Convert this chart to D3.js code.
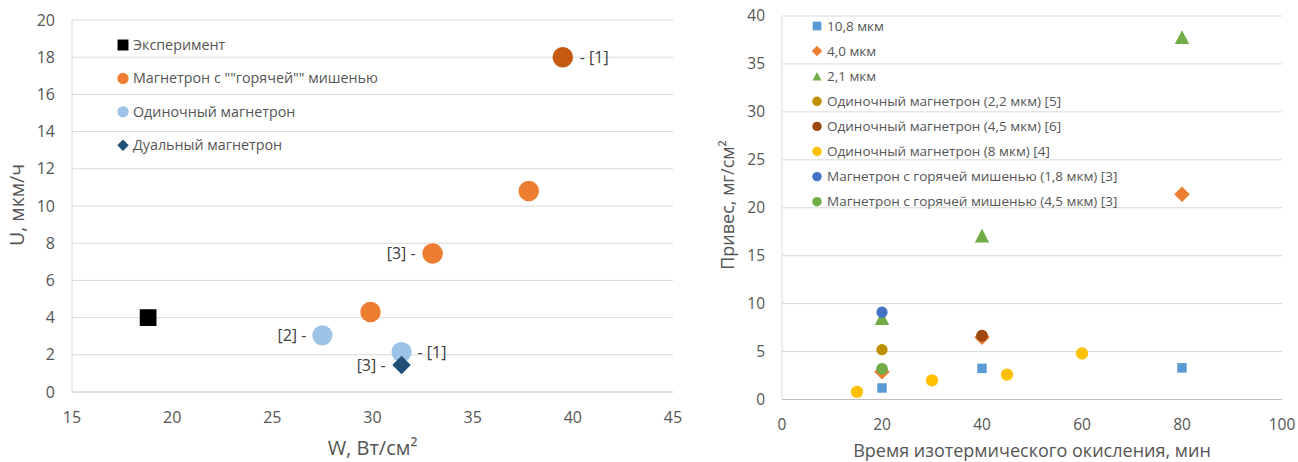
<!DOCTYPE html>
<html>
<head>
<meta charset="utf-8">
<script src="https://cdn.jsdelivr.net/npm/d3@7"></script>
<style>
  html, body { margin: 0; padding: 0; background: #ffffff; }
  svg { display: block; font-family: "Open Sans", "Noto Sans", sans-serif; }
</style>
</head>
<body>
<svg id="chart" width="1298" height="462"></svg>
<script>
// ---------- Left chart: deposition rate vs. power density ----------
const leftSeriesNames = ["Эксперимент", "Магнетрон с \"\"горячей\"\" мишенью", "Одиночный магнетрон", "Дуальный магнетрон"];
const leftSeriesColors = ["#000000", "#ED7D31", "#9DC3E6", "#1F4E79"];
const leftSeriesShapes = ["square", "circle", "circle", "diamond"];

const expW = [18.8];
const expU = [4.0];
const hotW = [39.5, 37.8, 33.0, 29.9];
const hotU = [18.0, 10.8, 7.45, 4.3];
const hotLabels = ["- [1]", "", "[3] -", ""];
const singleW = [27.5, 31.45];
const singleU = [3.05, 2.15];
const singleLabels = ["[2] -", "- [1]"];
const dualW = [31.45];
const dualU = [1.45];
const dualLabels = ["[3] -"];

const leftXTicks = [15, 20, 25, 30, 35, 40, 45];
const leftYTicks = [0, 2, 4, 6, 8, 10, 12, 14, 16, 18, 20];

// ---------- Right chart: weight gain vs. oxidation time ----------
const rightSeriesNames = [
  "10,8 мкм", "4,0 мкм", "2,1 мкм",
  "Одиночный магнетрон (2,2 мкм) [5]",
  "Одиночный магнетрон (4,5 мкм) [6]",
  "Одиночный магнетрон (8 мкм) [4]",
  "Магнетрон с горячей мишенью (1,8 мкм) [3]",
  "Магнетрон с горячей мишенью (4,5 мкм) [3]"
];
const rightSeriesColors = ["#5B9BD5", "#ED7D31", "#70AD47", "#BF9000", "#9E480E", "#FFC000", "#4472C4", "#70AD47"];
const rightSeriesShapes = ["square", "diamond", "triangle", "circle", "circle", "circle", "circle", "circle"];

const t108 = [20, 40, 80];
const m108 = [1.2, 3.25, 3.3];
const t40 = [20, 40, 80];
const m40 = [2.9, 6.5, 21.4];
const t21 = [20, 40, 80];
const m21 = [8.5, 17.1, 37.8];
const tSingle22 = [20];
const mSingle22 = [5.2];
const tSingle45 = [40];
const mSingle45 = [6.65];
const tSingle8 = [15, 30, 45, 60];
const mSingle8 = [0.8, 2.0, 2.6, 4.8];
const tHot18 = [20];
const mHot18 = [9.1];
const tHot45 = [20];
const mHot45 = [3.2];

const rightXTicks = [0, 20, 40, 60, 80, 100];
const rightYTicks = [0, 5, 10, 15, 20, 25, 30, 35, 40];

// ---------- marker shapes ----------
const shapeTypes = {
  circle: d3.symbolCircle,
  square: d3.symbolSquare,
  // square turned by 45 degrees; size = area
  diamond: {
    draw(ctx, size) {
      const h = Math.sqrt(size / 2);
      ctx.moveTo(0, -h); ctx.lineTo(h, 0); ctx.lineTo(0, h); ctx.lineTo(-h, 0); ctx.closePath();
    }
  },
  // isosceles triangle centred on its bounding box
  triangle: {
    draw(ctx, size) {
      const s = Math.sqrt(size);
      ctx.moveTo(0, -s / 2); ctx.lineTo(s / 2 * 1.05, s / 2); ctx.lineTo(-s / 2 * 1.05, s / 2); ctx.closePath();
    }
  }
};
function symbolPath(shape, area) {
  return d3.symbol().type(shapeTypes[shape]).size(area)();
}

const svg = d3.select("#chart");
const gridColor = "#D9D9D9";
const axisColor = "#BFBFBF";
const textColor = "#555555";

function drawFrame(g, x, y, xTicks, yTicks, fontSize, xOff, yOff) {
  const [x0, x1] = x.range();
  const [y0, y1] = y.range();
  // horizontal gridlines
  g.append("g").selectAll("line").data(yTicks.filter(d => d !== yTicks[0])).join("line")
    .attr("x1", x0).attr("x2", x1)
    .attr("y1", d => y(d)).attr("y2", d => y(d))
    .attr("stroke", gridColor).attr("stroke-width", 1);
  // axis lines
  g.append("line").attr("x1", x0).attr("x2", x1).attr("y1", y0).attr("y2", y0)
    .attr("stroke", axisColor).attr("stroke-width", 1);
  g.append("line").attr("x1", x0).attr("x2", x0).attr("y1", y0).attr("y2", y1)
    .attr("stroke", gridColor).attr("stroke-width", 1);
  // tick labels
  g.append("g").selectAll("text").data(yTicks).join("text")
    .attr("x", x0 - yOff).attr("y", d => y(d)).attr("dy", "0.35em")
    .attr("text-anchor", "end").attr("font-size", fontSize).attr("fill", textColor)
    .text(d => d);
  g.append("g").selectAll("text").data(xTicks).join("text")
    .attr("x", d => x(d)).attr("y", y0 + xOff).attr("dy", "0.35em")
    .attr("text-anchor", "middle").attr("font-size", fontSize).attr("fill", textColor)
    .text(d => d);
}

function drawPoints(g, x, y, xs, ys, shape, color, area) {
  g.append("g").selectAll("path").data(xs.map((v, i) => [v, ys[i]])).join("path")
    .attr("d", symbolPath(shape, area))
    .attr("transform", d => `translate(${x(d[0])},${y(d[1])})`)
    .attr("fill", color);
}

function drawLabels(g, x, y, xs, ys, labels, gap) {
  g.append("g").selectAll("text")
    .data(xs.map((v, i) => ({ x: v, y: ys[i], t: labels[i] })).filter(d => d.t))
    .join("text")
    .attr("x", d => d.t.startsWith("-") ? x(d.x) + gap : x(d.x) - gap)
    .attr("y", d => y(d.y)).attr("dy", "0.35em")
    .attr("text-anchor", d => d.t.startsWith("-") ? "start" : "end")
    .attr("font-size", 16).attr("fill", "#404040")
    .text(d => d.t);
}

// ===== Left chart =====
{
  const g = svg.append("g");
  const x = d3.scaleLinear().domain([15, 45]).range([72, 673]);
  const y = d3.scaleLinear().domain([0, 20]).range([392, 20]);
  drawFrame(g, x, y, leftXTicks, leftYTicks, 16, 25, 17);

  // axis titles
  g.append("text").attr("x", (72 + 673) / 2).attr("y", 448).attr("dy", "0.35em")
    .attr("text-anchor", "middle").attr("font-size", 20).attr("fill", textColor)
    .text("W, Вт/см²");
  g.append("text").attr("transform", "translate(17,205) rotate(-90)").attr("dy", "0.35em")
    .attr("text-anchor", "middle").attr("font-size", 19.5).attr("fill", textColor)
    .text("U, мкм/ч");

  // series
  drawPoints(g, x, y, expW, expU, "square", leftSeriesColors[0], 280);
  drawPoints(g, x, y, hotW.slice(1), hotU.slice(1), "circle", leftSeriesColors[1], 330);
  drawPoints(g, x, y, hotW.slice(0, 1), hotU.slice(0, 1), "circle", "#C55A11", 330);
  drawPoints(g, x, y, singleW, singleU, "circle", leftSeriesColors[2], 320);
  drawPoints(g, x, y, dualW, dualU, "diamond", leftSeriesColors[3], 170);

  drawLabels(g, x, y, hotW, hotU, hotLabels, 17);
  drawLabels(g, x, y, singleW, singleU, singleLabels, 16);
  drawLabels(g, x, y, dualW, dualU, dualLabels, 16);

  // legend
  const legendArea = [120, 100, 100, 65];
  const lg = g.append("g");
  leftSeriesNames.forEach((name, i) => {
    const ly = 45 + i * 33.4;
    lg.append("path").attr("d", symbolPath(leftSeriesShapes[i], legendArea[i]))
      .attr("transform", `translate(123,${ly})`).attr("fill", leftSeriesColors[i]);
    lg.append("text").attr("x", 133).attr("y", ly).attr("dy", "0.35em")
      .attr("font-size", 14.3).attr("fill", textColor).text(name);
  });
}

// ===== Right chart =====
{
  const g = svg.append("g");
  const x = d3.scaleLinear().domain([0, 100]).range([782, 1282]);
  const y = d3.scaleLinear().domain([0, 40]).range([399.5, 16]);
  drawFrame(g, x, y, rightXTicks, rightYTicks, 15.5, 25.5, 17);

  g.append("text").attr("x", (782 + 1282) / 2).attr("y", 451).attr("dy", "0.35em")
    .attr("text-anchor", "middle").attr("font-size", 18).attr("fill", textColor)
    .text("Время изотермического окисления, мин");
  g.append("text").attr("transform", "translate(728,205) rotate(-90)").attr("dy", "0.35em")
    .attr("text-anchor", "middle").attr("font-size", 18).attr("fill", textColor)
    .text("Привес, мг/см²");

  const seriesData = [
    [t108, m108], [t40, m40], [t21, m21], [tSingle22, mSingle22], [tSingle45, mSingle45],
    [tSingle8, mSingle8], [tHot18, mHot18], [tHot45, mHot45]
  ];
  const pointArea = [90, 120, 190, 100, 110, 120, 100, 110];
  seriesData.forEach((s, i) => {
    drawPoints(g, x, y, s[0], s[1], rightSeriesShapes[i], rightSeriesColors[i], pointArea[i]);
  });

  const legendArea = [75, 55, 70, 70, 70, 70, 70, 70];
  const lg = g.append("g");
  rightSeriesNames.forEach((name, i) => {
    const ly = 26 + i * 25.1;
    lg.append("path").attr("d", symbolPath(rightSeriesShapes[i], legendArea[i]))
      .attr("transform", `translate(817,${ly})`).attr("fill", rightSeriesColors[i]);
    lg.append("text").attr("x", 827).attr("y", ly).attr("dy", "0.35em")
      .attr("font-size", 13.5).attr("fill", textColor).text(name);
  });
}
</script>
</body>
</html>
